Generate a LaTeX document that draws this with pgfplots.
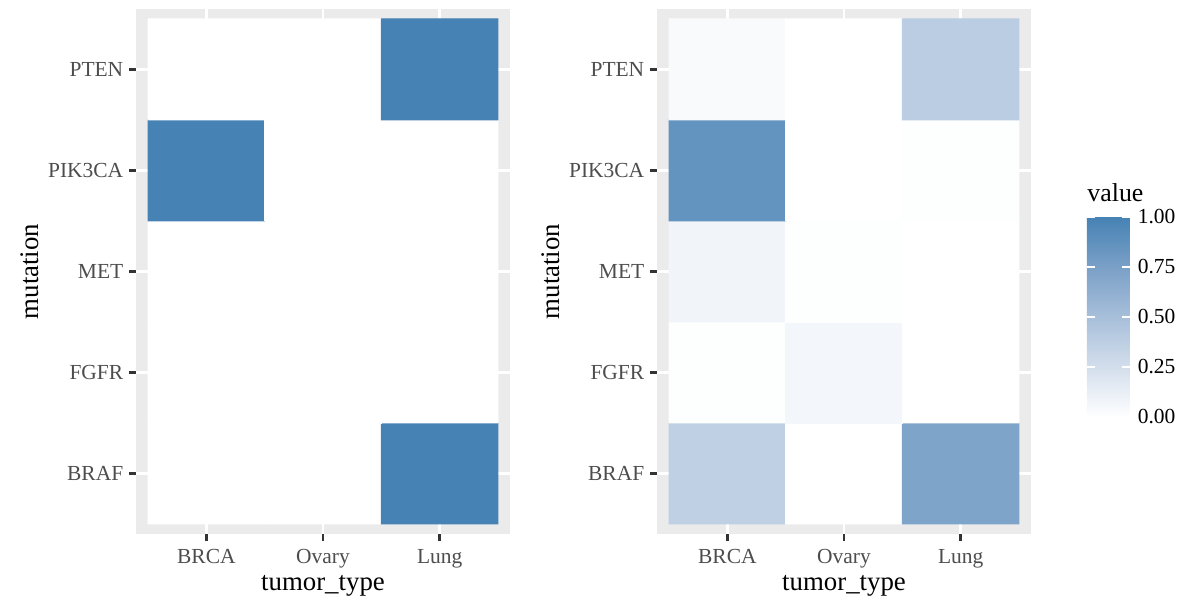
\documentclass[border=0pt]{standalone}
\usepackage{pgfplots}
\pgfplotsset{compat=1.18}
\usepackage{fontspec}
\setmainfont{Liberation Serif}
\definecolor{panelbg}{HTML}{EBEBEB}
\definecolor{tickc}{HTML}{333333}
\definecolor{ticklab}{HTML}{4D4D4D}

\pgfplotsset{
  ggheat/.style={
    scale only axis, width=153.34pt, height=215.25pt,
    xmin=0.397, xmax=3.603, ymin=0.401, ymax=5.599,
    xtick={1,2,3}, xticklabels={BRCA,Ovary,Lung},
    ytick={1,2,3,4,5}, yticklabels={BRAF,FGFR,MET,PIK3CA,PTEN},
    axis background/.style={fill=panelbg},
    axis line style={draw=none},
    grid=major, grid style={white, line width=1.07pt},
    tick align=outside, xtick pos=bottom, ytick pos=left,
    major tick length=2.9pt,
    tick style={tickc, line width=1.07pt},
    ticklabel style={font=\fontsize{8.8}{10}\selectfont, text=ticklab},
    yticklabel style={xshift=1.2pt},
    label style={font=\fontsize{11}{13}\selectfont, text=black},
    xlabel={tumor\_type}, ylabel={mutation},
    xlabel style={at={(axis description cs:0.5,-0.099)}, anchor=center},
    ylabel style={at={(axis description cs:-0.283,0.5)}, anchor=center},
    colormap={gg}{rgb255=(255,255,255) rgb255=(211,222,236) rgb255=(167,191,218) rgb255=(122,160,199) rgb255=(70,130,180)},
    point meta min=0, point meta max=1,
  }
}

\pgfplotstableread{
x y c
1 1 0
2 1 0
3 1 1
1 2 0
2 2 0
3 2 0
1 3 0
2 3 0
3 3 0
1 4 1
2 4 0
3 4 0
1 5 0
2 5 0
3 5 1
}\leftdata

\pgfplotstableread{
x y c
1 1 0.36
2 1 0
3 1 0.72
1 2 0.01
2 2 0.07
3 2 0
1 3 0.08
2 3 0.01
3 3 0
1 4 0.86
2 4 0
3 4 0.01
1 5 0.04
2 5 0
3 5 0.39
}\rightdata

\begin{document}
\begin{tikzpicture}
\path[use as bounding box] (0,0) rectangle (484.21pt,245.59pt);

\begin{axis}[ggheat, at={(55.76pt,26.65pt)}, anchor=south west]
\addplot[matrix plot*, mesh/cols=3, point meta=explicit] table[x=x, y=y, meta=c] {\leftdata};
\end{axis}

\begin{axis}[ggheat, at={(269.37pt,26.65pt)}, anchor=south west,
  colorbar, colorbar/width=17.63pt,
  colorbar style={
    at={(parent axis.south east)}, anchor=south west,
    xshift=14.4pt, yshift=47.97pt,
    scale only axis, width=17.63pt, height=82pt,
    xmin=0, xmax=1, enlargelimits=false,
    axis line style={draw=none},
    ytick={0,0.25,0.5,0.75,1},
    ytick pos=both, yticklabel pos=right,
    tick align=inside, major tick length=3.4pt,
    tick style={white, line width=0.6pt},
    yticklabel style={font=\fontsize{8.8}{10}\selectfont, text=black, xshift=-0.3pt,
      /pgf/number format/.cd, fixed, fixed zerofill, precision=2, assume math mode=true},
    title={value},
    title style={font=\fontsize{10.6}{13}\selectfont, at={(0,1)}, anchor=base west, inner sep=0pt, yshift=0.4pt},
  }]
\addplot[matrix plot*, mesh/cols=3, point meta=explicit] table[x=x, y=y, meta=c] {\rightdata};
\end{axis}
\end{tikzpicture}
\end{document}
